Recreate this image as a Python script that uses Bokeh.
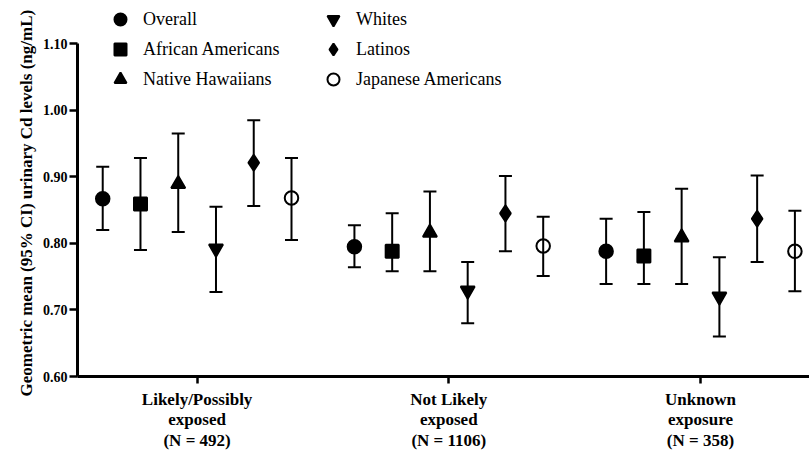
from bokeh.plotting import figure
from bokeh.models import (ColumnDataSource, Whisker, TeeHead, FixedTicker, Legend,
                          LegendItem, Range1d, NumeralTickFormatter, Title)
from bokeh.embed import file_html
from bokeh.resources import INLINE

# Exposure categories (x axis) and population groups (one marker series each)
exposure_groups = [
    "Likely/Possibly\nexposed\n(N = 492)",
    "Not Likely\nexposed\n(N = 1106)",
    "Unknown\nexposure\n(N = 358)",
]
series_names = ["Overall", "African Americans", "Native Hawaiians",
                "Whites", "Latinos", "Japanese Americans"]

# Geometric means with 95% CI, one value per exposure group
overall_mean = [0.867, 0.795, 0.788]
overall_low = [0.820, 0.764, 0.739]
overall_high = [0.915, 0.827, 0.837]

african_american_mean = [0.859, 0.788, 0.781]
african_american_low = [0.790, 0.758, 0.739]
african_american_high = [0.928, 0.845, 0.847]

native_hawaiian_mean = [0.889, 0.816, 0.809]
native_hawaiian_low = [0.817, 0.758, 0.739]
native_hawaiian_high = [0.965, 0.878, 0.882]

white_mean = [0.792, 0.729, 0.720]
white_low = [0.727, 0.680, 0.660]
white_high = [0.855, 0.772, 0.779]

latino_mean = [0.921, 0.845, 0.837]
latino_low = [0.856, 0.788, 0.772]
latino_high = [0.985, 0.901, 0.902]

japanese_american_mean = [0.868, 0.796, 0.788]
japanese_american_low = [0.805, 0.751, 0.728]
japanese_american_high = [0.928, 0.840, 0.849]

y_ticks = [0.60, 0.70, 0.80, 0.90, 1.00, 1.10]
y_title = "Geometric mean (95% CI) urinary Cd levels (ng/mL)"

series_data = [
    (overall_mean, overall_low, overall_high),
    (african_american_mean, african_american_low, african_american_high),
    (native_hawaiian_mean, native_hawaiian_low, native_hawaiian_high),
    (white_mean, white_low, white_high),
    (latino_mean, latino_low, latino_high),
    (japanese_american_mean, japanese_american_low, japanese_american_high),
]

marker_styles = [
    dict(marker="circle", size=13.5, fill_color="black"),
    dict(marker="square", size=13, fill_color="black"),
    dict(marker="triangle", size=14, fill_color="black"),
    dict(marker="inverted_triangle", size=14, fill_color="black"),
    dict(marker="diamond", size=16, fill_color="black"),
    dict(marker="circle", size=13.5, fill_color="white", fill_alpha=0.0),
]

FONT = "Liberation Serif"
group_pos = [i + 1 for i in range(len(exposure_groups))]
dodge_step = 0.15

p = figure(width=809, height=453, output_backend="svg", toolbar_location=None,
           x_range=Range1d(0.5248, 3.433), y_range=Range1d(0.60, 1.1647),
           min_border_left=77, min_border_right=0, min_border_top=0,
           min_border_bottom=75)
p.outline_line_color = None
p.xgrid.visible = False
p.ygrid.visible = False
p.background_fill_color = "white"
p.border_fill_color = "white"

renderers = []
for k, ((mean, low, high), style) in enumerate(zip(series_data, marker_styles)):
    offset = (k - (len(series_names) - 1) / 2) * dodge_step
    src = ColumnDataSource(dict(
        x=[g + offset for g in group_pos], mean=mean, low=low, high=high))
    whisk = Whisker(base="x", lower="low", upper="high", source=src,
                    line_color="black", line_width=2, level="underlay",
                    lower_head=TeeHead(size=13, line_width=2, line_color="black"),
                    upper_head=TeeHead(size=13, line_width=2, line_color="black"))
    p.add_layout(whisk)
    r = p.scatter("x", "mean", source=src, line_color="black", line_width=2, **style)
    renderers.append(r)

# two legend columns
for idx, x_off in [((0, 1, 2), 28), ((3, 4, 5), 241)]:
    items = [LegendItem(label=series_names[i], renderers=[renderers[i]]) for i in idx]
    leg = Legend(items=items, location=(x_off, 282), orientation="vertical",
                 glyph_width=30, glyph_height=30, label_height=30, spacing=0,
                 label_standoff=8, padding=0, margin=0,
                 border_line_alpha=0, background_fill_alpha=0,
                 label_text_font=FONT, label_text_font_style="normal",
                 label_text_font_size="18px", label_text_color="black")
    p.add_layout(leg, "center")

# y axis
yax = p.yaxis[0]
yax.ticker = FixedTicker(ticks=y_ticks)
yax.formatter = NumeralTickFormatter(format="0.00")
yax.bounds = (0.60, 1.10)
yax.axis_line_width = 3
yax.major_tick_line_width = 2.5
yax.major_tick_out = 8
yax.major_tick_in = 0
yax.minor_tick_line_color = None
yax.major_label_standoff = 2
yax.major_label_text_font = FONT
yax.major_label_text_font_style = "bold"
yax.major_label_text_font_size = "14px"
yax.major_label_text_color = "black"

# rotated y title, placed in its own side panel, starting just below the frame
p.add_layout(Title(text=y_title, align="left", offset=-20, vertical_align="middle",
                   standoff=5, text_font=FONT, text_font_style="bold",
                   text_font_size="17px", text_color="black"), "left")

# x axis
xax = p.xaxis[0]
xax.ticker = FixedTicker(ticks=group_pos)
xax.major_label_overrides = {g: lbl for g, lbl in zip(group_pos, exposure_groups)}
xax.axis_line_width = 3
xax.major_tick_line_width = 2.5
xax.major_tick_out = 7
xax.major_tick_in = 0
xax.minor_tick_line_color = None
xax.major_label_standoff = 6
xax.major_label_text_font = FONT
xax.major_label_text_font_style = "bold"
xax.major_label_text_font_size = "17px"
xax.major_label_text_line_height = 1.1
xax.major_label_text_color = "black"

open("out.html", "w").write(file_html(p, INLINE))
